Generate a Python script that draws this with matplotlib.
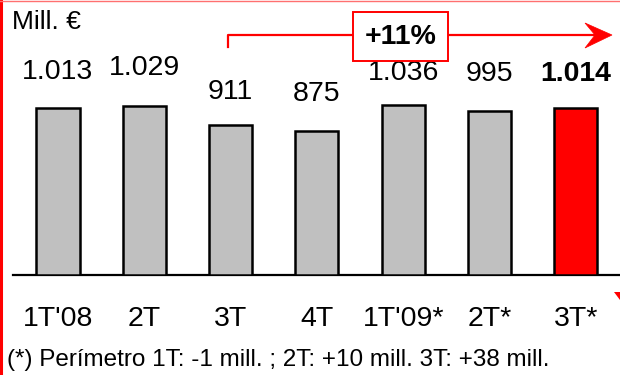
import matplotlib
matplotlib.use("Agg")
import matplotlib.pyplot as plt
from matplotlib.lines import Line2D
from matplotlib.patches import Polygon, Rectangle

plt.rcParams['font.family'] = ['Liberation Sans', 'DejaVu Sans']

# Quarterly figures, millions of euros
quarters = ["1T'08", "2T", "3T", "4T", "1T'09*", "2T*", "3T*"]
values = [1013, 1029, 911, 875, 1036, 995, 1014]
value_labels = ["1.013", "1.029", "911", "875", "1.036", "995", "1.014"]
growth_label = "+11%"
unit_label = "Mill. €"
footnote = "(*) Perímetro 1T: -1 mill. ; 2T: +10 mill. 3T: +38 mill."

W, H = 620, 375
fig = plt.figure(figsize=(W / 100, H / 100), dpi=100)
fig.patch.set_facecolor("white")


def fx(px):
    return px / W


def fy(py):
    return 1 - py / H


ax = fig.add_axes([fx(13), 1 - 275 / H, (W - 13) / W, 275 / H])
ax.set_xlim(-0.521, 6.512)
ax.set_ylim(0, 1671)
for s in ("top", "left", "right"):
    ax.spines[s].set_visible(False)
ax.spines["bottom"].set_linewidth(1.6)
ax.spines["bottom"].set_color("black")
ax.set_yticks([])
ax.set_xticks([])
ax.patch.set_alpha(0)

colors = ["#C0C0C0"] * (len(values) - 1) + ["#FF0000"]
x = list(range(len(values)))
ax.bar(x, values, width=0.5, color=colors, edgecolor="black", linewidth=1.8, zorder=3)

label_offsets = [36, 38, 33, 37, 32, 37, 34]
for i, (v, lab, off) in enumerate(zip(values, value_labels, label_offsets)):
    bold = i == len(values) - 1
    ax.annotate(lab, xy=(i, v), xytext=(0, off), textcoords="offset pixels",
                ha="center", va="center", fontsize=20.5,
                fontweight="bold" if bold else "normal", annotation_clip=False)

for i, q in enumerate(quarters):
    ax.annotate(q, xy=(i, 0), xytext=(0, -44), textcoords="offset pixels",
                ha="center", va="center", fontsize=20.5, annotation_clip=False)

# Unit caption
fig.text(fx(12), fy(22), unit_label, ha="left", va="center", fontsize=19)

# Growth arrow across the last quarters
red = "#FF0000"
fig.add_artist(Line2D([fx(228), fx(228), fx(596)], [fy(47), fy(35), fy(35)],
                      color=red, linewidth=1.6, transform=fig.transFigure))
head = [(612, 35), (585, 23), (595, 35), (585, 48)]
fig.add_artist(Polygon([(fx(a), fy(b)) for a, b in head], closed=True,
                       facecolor=red, edgecolor=red, linewidth=0.5,
                       transform=fig.transFigure))
fig.add_artist(Rectangle((fx(353), fy(61)), fx(448) - fx(353), fy(12) - fy(61),
                         facecolor="white", edgecolor=red, linewidth=1.4,
                         transform=fig.transFigure, zorder=5))
fig.text(fx(400.5), fy(36.5), growth_label, ha="center", va="center",
         fontsize=20.5, fontweight="bold", zorder=6)

# Footnote
fig.text(fx(7), fy(360), footnote, ha="left", va="center", fontsize=17.5)

# Slide frame edges
fig.add_artist(Line2D([fx(1.2), fx(1.2)], [0, 1], color=red, linewidth=2.2,
                      transform=fig.transFigure))
fig.add_artist(Line2D([0, 1], [fy(0.5), fy(0.5)], color="#FF7070", linewidth=1.0,
                      transform=fig.transFigure))
mark = [(614, 292), (620, 292), (620, 300)]
fig.add_artist(Polygon([(fx(a), fy(b)) for a, b in mark], closed=True,
                       facecolor=red, edgecolor="none", transform=fig.transFigure))

fig.savefig("out.png", dpi=100)
